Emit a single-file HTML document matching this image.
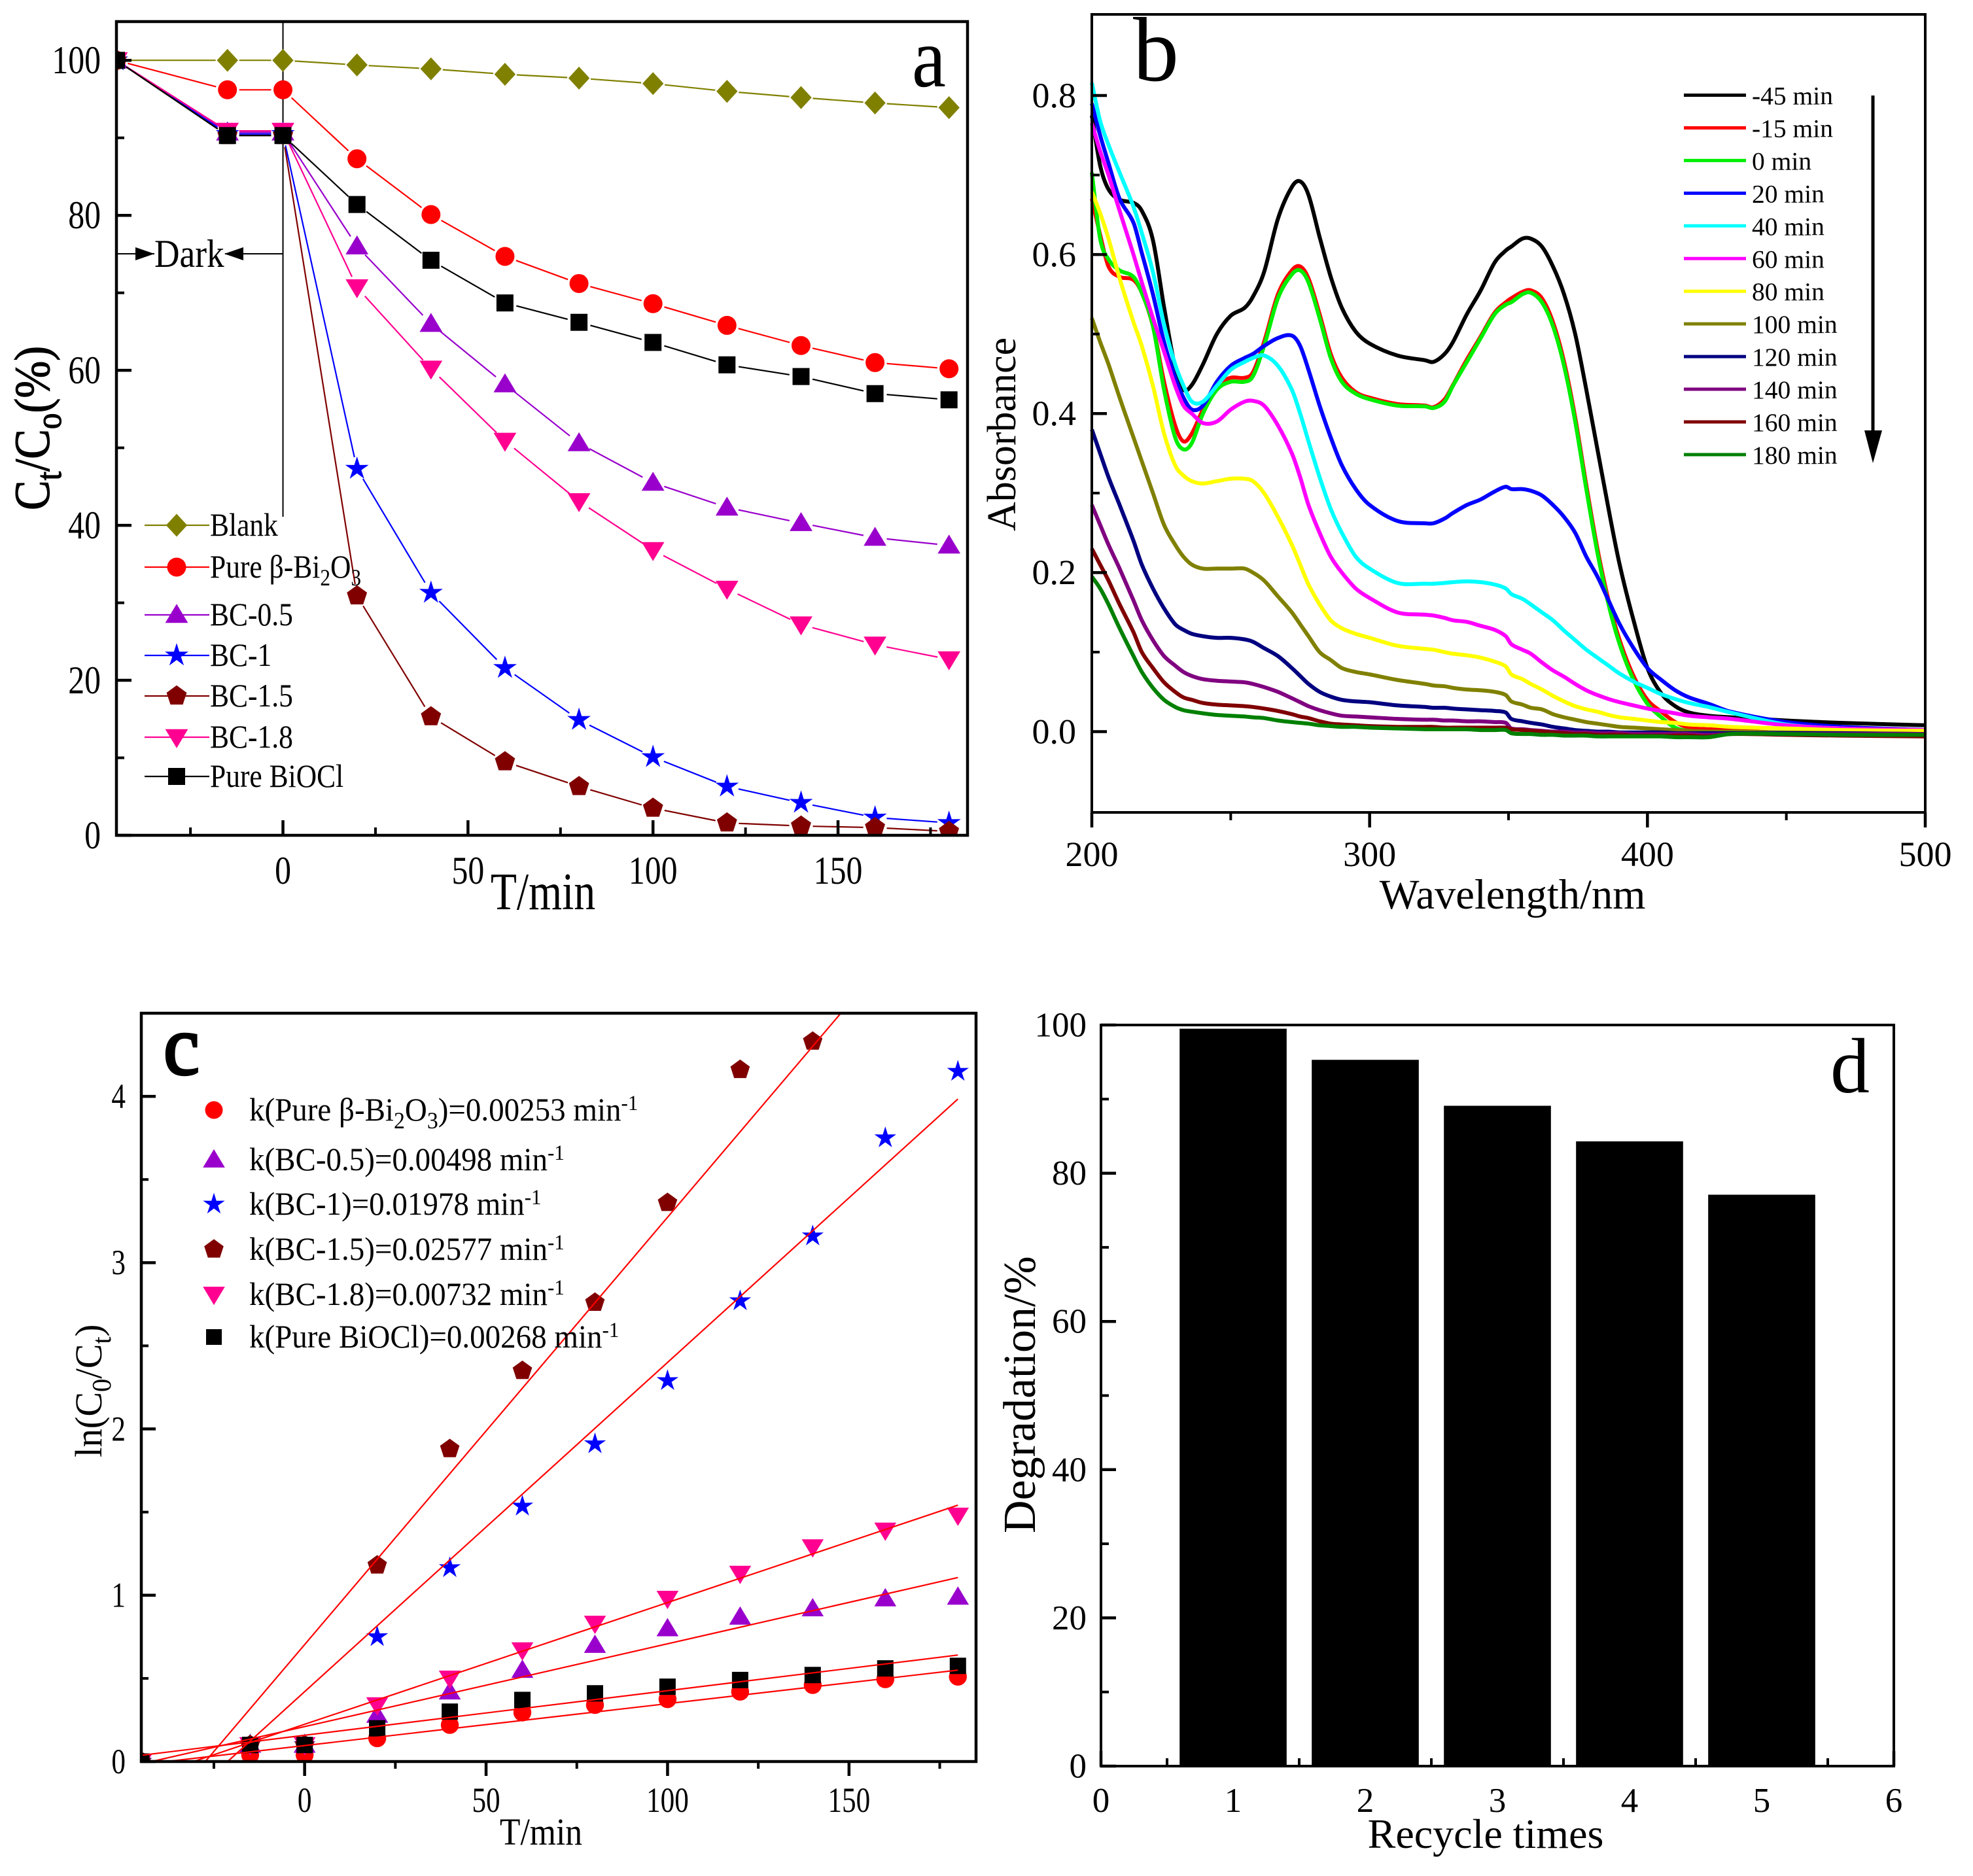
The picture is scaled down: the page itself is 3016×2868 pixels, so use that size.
<!DOCTYPE html>
<html><head><meta charset="utf-8"><title>Photocatalysis panels</title>
<style>html,body{margin:0;padding:0;background:#fff;width:3016px;height:2868px;overflow:hidden}svg{display:block}text{font-family:"Liberation Serif",serif;fill:#000}</style>
</head><body>
<svg id="fig" xmlns="http://www.w3.org/2000/svg" width="3016" height="2868" viewBox="0 0 3016 2868"><rect width="3016" height="2868" fill="#fff"/></svg>
<script>
// ---------- Panel a data ----------
const timeA = [-45,-15,0,20,40,60,80,100,120,140,160,180];
const aBlank = [100,100,100,99.4,98.9,98.2,97.7,97,96,95.2,94.5,93.9];
const aBi2O3 = [100,96.2,96.2,87.3,80.1,74.7,71.2,68.6,65.8,63.2,61,60.2];
const aBC05 = [100,90.7,90.7,76,66,58.2,50.6,45.5,42.3,40.3,38.4,37.4];
const aBC1 = [100,90.5,90.5,47.3,31.3,21.6,14.9,10.1,6.3,4.2,2.3,1.6];
const aBC15 = [100,90.3,90.3,30.9,15.3,9.5,6.3,3.5,1.6,1.2,1.0,0.5];
const aBC18 = [100,90.9,90.9,70.7,60.2,50.9,43.1,36.8,31.8,27.2,24.6,22.7];
const aBiOCl = [100,90.3,90.3,81.4,74.2,68.7,66.2,63.6,60.7,59.2,57,56.2];
// ---------- Panel b data ----------
const wavelengths = [200,203,206,210,215, 218,222,226,230,233, 236,240,245,250,255, 258,262,267,272,275, 278,282,286,290,295, 300,310,320,323,327, 330,335,340,345,349, 351,355,358,362,366, 370,374,378,382,386, 390,395,400,405,410, 415,422,430,450,470, 500];
const bM45 = [.775,.712,.682,.669,.665, .655,.618,.534,.458,.430, .436,.462,.50,.523,.533, .547,.578,.645,.685,.692, .675,.622,.572,.533,.503, .488,.473,.467,.465,.475, .49,.525,.555,.59,.605, .61,.62,.62,.61,.585, .55,.50,.43,.355,.28, .21,.14,.08,.048,.032, .024,.02,.018,.014,.011, .008];
const bM15 = [.67,.625,.585,.572,.568, .552,.51,.44,.385,.365, .375,.405,.435,.445,.445, .452,.49,.55,.58,.585, .57,.525,.475,.445,.427, .42,.412,.41,.408,.418, .436,.468,.497,.527,.54, .545,.553,.555,.545,.515, .465,.395,.31,.23,.165, .115,.07,.04,.025,.012, .005,.003,.002,-.002,-.004, -.006];
const b0 = [.703,.62,.594,.58,.572, .552,.51,.43,.37,.355, .363,.40,.43,.44,.44, .447,.485,.545,.575,.58, .565,.52,.47,.44,.425, .418,.41,.409,.407,.415, .435,.465,.495,.525,.537, .54,.55,.552,.54,.51, .46,.39,.305,.225,.16, .11,.065,.035,.018,.005, .001,0,0,-.002,-.003, -.004];
const b20 = [.79,.75,.715,.67,.64, .602,.55,.49,.445,.42, .405,.41,.44,.46,.47, .475,.485,.495,.498,.485, .455,.41,.37,.335,.305, .285,.265,.262,.262,.268, .275,.285,.292,.302,.308, .305,.305,.303,.297,.285, .27,.25,.22,.195,.165, .135,.105,.08,.065,.052, .043,.035,.025,.012,.006, .002];
const b40 = [.816,.768,.738,.703,.66, .627,.578,.512,.462,.435, .415,.415,.435,.455,.465, .47,.473,.46,.43,.40, .365,.32,.28,.25,.22, .205,.187,.186,.186,.187, .188,.189,.188,.185,.18, .173,.167,.16,.15,.14, .127,.115,.103,.093,.083, .073,.063,.055,.047,.041, .036,.031,.024,.009,.004, .001];
const b60 = [.765,.73,.70,.655,.60, .565,.52,.478,.435,.41, .40,.388,.39,.405,.415, .416,.41,.385,.35,.32, .285,.25,.22,.20,.18, .168,.15,.147,.146,.143, .14,.138,.133,.128,.12, .11,.103,.098,.087,.077, .069,.06,.052,.046,.041, .037,.033,.029,.026,.023, .02,.018,.016,.008,.004, .002];
const b80 = [.679,.652,.62,.57,.515, .485,.435,.375,.335,.322, .315,.312,.315,.318,.318, .315,.30,.27,.235,.21, .185,.16,.14,.13,.123, .118,.108,.104,.103,.10, .098,.096,.093,.088,.082, .072,.066,.06,.053,.045, .038,.032,.028,.025,.021, .018,.016,.014,.012,.011, .009,.008,.006,.004,.002, .001];
const b100 = [.52,.49,.462,.42,.37, .34,.30,.26,.235,.22, .21,.205,.205,.205,.205, .20,.19,.17,.15,.135, .12,.10,.09,.08,.075, .072,.065,.06,.058,.057, .055,.053,.052,.05,.046, .038,.034,.03,.028,.022, .018,.015,.012,.01,.008, .006,.005,.004,.003,.002, .001,0,0,-.001,-.002, -.003];
const b120 = [.38,.35,.32,.285,.24, .21,.18,.155,.135,.128, .123,.12,.118,.118,.116, .113,.105,.095,.08,.07, .06,.05,.044,.04,.038, .037,.033,.031,.03,.03, .029,.028,.027,.026,.024, .016,.013,.011,.009,.006, .004,.002,.001,0,0, -.001,-.001,-.001,-.001,-.002, -.002,-.002,-.002,-.002,-.002, -.003];
const b140 = [.285,.26,.235,.205,.165, .14,.115,.095,.083,.075, .07,.066,.064,.063,.062, .06,.056,.05,.042,.037, .032,.027,.023,.02,.019, .018,.016,.015,.015,.014, .014,.013,.013,.012,.011, .004,.003,.002,.001,0, 0,-.001,-.001,-.002,-.002, -.002,-.003,-.003,-.003,-.003, -.003,-.004,-.003,-.003,-.003, -.003];
const b160 = [.23,.21,.19,.16,.125, .10,.08,.062,.05,.043, .04,.036,.034,.033,.032, .031,.029,.026,.022,.019, .017,.013,.01,.009,.008, .007,.006,.006,.006,.005, .005,.005,.005,.005,.005, .003,.002,.001,0,-.001, -.002,-.003,-.003,-.004,-.004, -.004,-.005,-.005,-.005,-.005, -.005,-.006,-.003,-.004,-.005, -.006];
const b180 = [.195,.18,.16,.13,.095, .075,.055,.04,.031,.027, .025,.023,.021,.02,.019, .018,.017,.014,.012,.011, .01,.008,.007,.006,.006, .005,.004,.003,.003,.003, .003,.003,.002,.002,.002, -.002,-.003,-.003,-.004,-.004, -.005,-.005,-.005,-.006,-.006, -.006,-.006,-.006,-.006,-.007, -.007,-.007,-.003,-.003,-.004, -.004];
// ---------- Panel c data ----------
const timeC = [-45,-15,0,20,40,60,80,100,120,140,160,180];
const cBi2O3 = [0,.04,.04,.14,.22,.295,.34,.375,.42,.46,.495,.51];
const cBC05 = [0,.1,.1,.28,.42,.55,.7,.8,.87,.92,.98,.99];
const cBC1 = [0,.1,.1,.75,1.165,1.535,1.91,2.29,2.77,3.16,3.75,4.15];
const cBC15 = [0,.1,.1,1.18,1.88,2.35,2.76,3.36,4.16,4.33,4.6,5.3];
const cBC18 = [0,.1,.1,.34,.5,.67,.83,.98,1.13,1.29,1.39,1.48];
const cBiOCl = [0,.1,.1,.2,.3,.37,.41,.45,.49,.52,.56,.575];
const fitSlopes = [.00252,.00498,.0198,.0257,.00732,.00268];
const fitIntercepts = [.096,.21,.42,.703,.224,.158];
const fitStart = [-38,-42,-21.2,-27.3,-30.6,-45];
// ---------- Panel d data ----------
const cycles = [1,2,3,4,5];
const degradation = [99.5,95.3,89.1,84.3,77.1];

const svg = document.getElementById('fig');
const NS = 'http://www.w3.org/2000/svg';
function mk(parent, tag, attrs, name, inter) {
  const el = document.createElementNS(NS, tag);
  for (const k in attrs) el.setAttribute(k, attrs[k]);
  
  
  parent.appendChild(el);
  return el;
}
function txt(parent, name, x, y, parts, o) {
  o = o || {};
  const size = o.size || 50;
  let tf = 'translate(' + x + ',' + y + ')';
  if (o.rot) tf += ' rotate(' + o.rot + ')';
  tf += ' scale(' + (o.sx || 1) + ',' + (o.sy || 1) + ')';
  const a = {'font-size': size, 'text-anchor': o.anchor || 'start', transform: tf};
  if (o.weight) a['font-weight'] = o.weight;
  if (o.stroke) { a.stroke = '#000'; a['stroke-width'] = o.stroke; }
  const t = mk(parent, 'text', a, name, false);
  if (typeof parts === 'string') { t.textContent = parts; return t; }
  let base = 0;
  parts.forEach(function (p) {
    const ts = document.createElementNS(NS, 'tspan');
    const kind = p[1] || '';
    let target = 0, fs = size;
    if (kind === 'sub') { target = size * .24; fs = size * .72; }
    if (kind === 'sup') { target = -size * .32; fs = size * .66; }
    ts.setAttribute('dy', target - base);
    ts.setAttribute('font-size', fs);
    base = target;
    ts.textContent = p[0];
    t.appendChild(ts);
  });
  return t;
}
function scale(d0, d1, r0, r1) { return function (v) { return r0 + (v - d0) * (r1 - r0) / (d1 - d0); }; }
function marker(parent, kind, cx, cy, r, color, name) {
  if (kind === 'circle') return mk(parent, 'circle', {cx: cx, cy: cy, r: r, fill: color}, name, false);
  let pts = [];
  if (kind === 'square') pts = [[-r,-r],[r,-r],[r,r],[-r,r]];
  if (kind === 'diamond') pts = [[0,-r*1.3],[r*1.2,0],[0,r*1.3],[-r*1.2,0]];
  if (kind === 'up') pts = [[0,-r*1.15],[r*1.2,r*.85],[-r*1.2,r*.85]];
  if (kind === 'down') pts = [[0,r*1.15],[r*1.2,-r*.85],[-r*1.2,-r*.85]];
  if (kind === 'pent') { for (let i = 0; i < 5; i++) { const a = -Math.PI/2 + i*2*Math.PI/5; pts.push([r*1.2*Math.cos(a), r*1.2*Math.sin(a)]); } }
  if (kind === 'star') { for (let i = 0; i < 10; i++) { const a = -Math.PI/2 + i*Math.PI/5, q = (i%2 ? .5 : 1.35)*r; pts.push([q*Math.cos(a), q*Math.sin(a)]); } }
  return mk(parent, 'polygon', {points: pts.map(function (p) { return (cx+p[0]).toFixed(1)+','+(cy+p[1]).toFixed(1); }).join(' '), fill: color}, name, false);
}
function axes(parent, id, box, X, Y, cfg) {
  const g = mk(parent, 'g', {}, id + '-axes', false);
  mk(g, 'rect', {x: box.L, y: box.T, width: box.R - box.L, height: box.B - box.T, fill: 'none', stroke: '#000', 'stroke-width': cfg.frame || 4.5}, id + '-frame', false);
  const dirX = cfg.xOut ? 1 : -1;
  cfg.xMajor.forEach(function (v) {
    mk(g, 'line', {x1: X(v), x2: X(v), y1: box.B, y2: box.B + dirX * cfg.majLen, stroke: '#000', 'stroke-width': 4.5}, id + '-x-tick', false);
    txt(g, id + '-x-tick-label', X(v), box.B + cfg.xLabelDy, String(v), {size: cfg.fs, anchor: 'middle', sx: cfg.sx});
  });
  cfg.xMinor.forEach(function (v) {
    mk(g, 'line', {x1: X(v), x2: X(v), y1: box.B, y2: box.B + dirX * cfg.minLen, stroke: '#000', 'stroke-width': 4}, id + '-x-minor-tick', false);
  });
  cfg.yMajor.forEach(function (v) {
    mk(g, 'line', {x1: box.L, x2: box.L + cfg.majLen, y1: Y(v), y2: Y(v), stroke: '#000', 'stroke-width': 4.5}, id + '-y-tick', false);
    txt(g, id + '-y-tick-label', box.L + cfg.yLabelDx, Y(v) + cfg.fs * .33, cfg.yFmt ? cfg.yFmt(v) : String(v), {size: cfg.fs, anchor: 'end', sx: cfg.sx});
  });
  cfg.yMinor.forEach(function (v) {
    mk(g, 'line', {x1: box.L, x2: box.L + cfg.minLen, y1: Y(v), y2: Y(v), stroke: '#000', 'stroke-width': 4}, id + '-y-minor-tick', false);
  });
  return g;
}
function clip(id, box) {
  const cp = mk(svg, 'clipPath', {id: id}, id, false);
  mk(cp, 'rect', {x: box.L, y: box.T, width: box.R - box.L, height: box.B - box.T}, id + '-rect', false);
}
function range(a, b, s) { const o = []; for (let v = a; v <= b + 1e-9; v += s) o.push(+v.toFixed(4)); return o; }
function smoothPath(xs, ys, X, Y) {
  const n = xs.length, m = [];
  for (let i = 0; i < n; i++) {
    const a = Math.max(0, i - 1), b = Math.min(n - 1, i + 1);
    m.push((ys[b] - ys[a]) / (xs[b] - xs[a]));
  }
  let d = 'M' + X(xs[0]).toFixed(1) + ' ' + Y(ys[0]).toFixed(1);
  for (let i = 0; i < n - 1; i++) {
    const h = (xs[i+1] - xs[i]) / 3;
    d += 'C' + X(xs[i] + h).toFixed(1) + ' ' + Y(ys[i] + m[i] * h).toFixed(1) + ' ' + X(xs[i+1] - h).toFixed(1) + ' ' + Y(ys[i+1] - m[i+1] * h).toFixed(1) + ' ' + X(xs[i+1]).toFixed(1) + ' ' + Y(ys[i+1]).toFixed(1);
  }
  return d;
}

// =============== PANEL A ===============
const boxA = {L: 178, R: 1479, T: 33, B: 1277};
const xA = scale(-45, 185, boxA.L, boxA.R), yA = scale(0, 105, boxA.B, boxA.T);
clip('clip-a', boxA);
const panelA = mk(svg, 'g', {}, 'panel-a', false);
const seriesA = [
  ['blank', aBlank, '#808000', 'diamond', 13.5],
  ['bi2o3', aBi2O3, '#ff0000', 'circle', 14.5],
  ['bc-0-5', aBC05, '#9900cc', 'up', 14.5],
  ['bc-1', aBC1, '#0000ff', 'star', 14],
  ['bc-1-5', aBC15, '#800000', 'pent', 13.5],
  ['bc-1-8', aBC18, '#ff0090', 'down', 14.5],
  ['bioc', aBiOCl, '#000000', 'square', 13]
];
mk(panelA, 'line', {x1: xA(0), x2: xA(0), y1: boxA.T, y2: 790, stroke: '#000', 'stroke-width': 2}, 'dark-divider-line', false);
seriesA.forEach(function (s) {
  const g = mk(panelA, 'g', {'clip-path': 'url(#clip-a)'}, 'series-' + s[0], false);
  let d = '';
  for (let i = 0; i < timeA.length - 1; i++) {
    const x1 = xA(timeA[i]), y1 = yA(s[1][i]), x2 = xA(timeA[i+1]), y2 = yA(s[1][i+1]);
    const len = Math.hypot(x2-x1, y2-y1), gap = Math.min(18, len/2.2), ux = (x2-x1)/len, uy = (y2-y1)/len;
    d += 'M' + (x1+ux*gap).toFixed(1) + ' ' + (y1+uy*gap).toFixed(1) + 'L' + (x2-ux*gap).toFixed(1) + ' ' + (y2-uy*gap).toFixed(1);
  }
  mk(g, 'path', {d: d, fill: 'none', stroke: s[2], 'stroke-width': 2.2}, 'line-' + s[0], false);
  timeA.forEach(function (t, i) { marker(g, s[3], xA(t), yA(s[1][i]), s[4], s[2], 'point-' + s[0]); });
});
axes(panelA, 'a', boxA, xA, yA, {xMajor: [0,50,100,150], xMinor: [-25,25,75,125,175], yMajor: range(0,100,20), yMinor: range(10,90,20), xOut: false, majLen: 23, minLen: 12, fs: 60, sx: .83, xLabelDy: 74, yLabelDx: -24});
txt(panelA, 'x-axis-title-a', 830, 1390, 'T/min', {size: 80, anchor: 'middle', sx: .82});
txt(panelA, 'y-axis-title-a', 75, 780, [['C'],['t','sub'],['/C'],['o','sub'],['(%)']], {size: 76, rot: -90, sx: .9, stroke: 1.2});
txt(panelA, 'panel-label-a', 1394, 132, 'a', {size: 130, sx: .9});
mk(panelA, 'line', {x1: boxA.L, x2: 236, y1: 388, y2: 388, stroke: '#000', 'stroke-width': 2}, 'dark-arrow-line-left', false);
mk(panelA, 'polygon', {points: '207,378 236,388 207,398', fill: '#000'}, 'dark-arrow-head-right', false);
mk(panelA, 'line', {x1: 344, x2: 433, y1: 388, y2: 388, stroke: '#000', 'stroke-width': 2}, 'dark-arrow-line-right', false);
mk(panelA, 'polygon', {points: '372,378 343,388 372,398', fill: '#000'}, 'dark-arrow-head-left', false);
txt(panelA, 'dark-label', 236, 408, 'Dark', {size: 60, sx: .89});
const legendA = [
  [[['Blank']], '#808000', 'diamond', 13.5, 803],
  [[['Pure β-Bi'],['2','sub'],['O'],['3','sub']], '#ff0000', 'circle', 14.5, 867],
  [[['BC-0.5']], '#9900cc', 'up', 14.5, 940],
  [[['BC-1']], '#0000ff', 'star', 14, 1002],
  [[['BC-1.5']], '#800000', 'pent', 13.5, 1064],
  [[['BC-1.8']], '#ff0090', 'down', 14.5, 1127],
  [[['Pure BiOCl']], '#000000', 'square', 13, 1187]
];
legendA.forEach(function (r, i) {
  const g = mk(panelA, 'g', {}, 'legend-entry-a', false);
  mk(g, 'line', {x1: 221, x2: 320, y1: r[4], y2: r[4], stroke: r[1], 'stroke-width': 2.2}, 'legend-line', false);
  marker(g, r[2], 270, r[4], r[3], r[1], 'legend-marker');
  txt(g, 'legend-label', 321, r[4] + 16, r[0], {size: 50, sx: .87});
});

// =============== PANEL B ===============
const boxB = {L: 1669, R: 2943, T: 22, B: 1242};
const xB = scale(200, 500, boxB.L, boxB.R), yB = scale(0, .8, 1118.5, 146);
clip('clip-b', {L: boxB.L - 3, R: boxB.R, T: boxB.T, B: boxB.B});
const panelB = mk(svg, 'g', {}, 'panel-b', false);
const seriesB = [
  ['-45 min', bM45, '#000000'], ['-15 min', bM15, '#ff0000'], ['0 min', b0, '#00ee00'],
  ['20 min', b20, '#0000ff'], ['40 min', b40, '#00ffff'], ['60 min', b60, '#ff00ff'],
  ['80 min', b80, '#ffff00'], ['100 min', b100, '#808000'], ['120 min', b120, '#000080'],
  ['140 min', b140, '#800080'], ['160 min', b160, '#800000'], ['180 min', b180, '#008000']
];
seriesB.forEach(function (s) {
  mk(panelB, 'path', {d: smoothPath(wavelengths, s[1], xB, yB), fill: 'none', stroke: s[2], 'stroke-width': 6, 'stroke-linejoin': 'round', 'clip-path': 'url(#clip-b)'}, 'spectrum-' + s[0].replace(' ', '-'), false);
});
axes(panelB, 'b', boxB, xB, yB, {xMajor: [200,300,400,500], xMinor: [250,350,450], yMajor: [0,.2,.4,.6,.8], yMinor: [.1,.3,.5,.7], yFmt: function (v) { return v.toFixed(1); }, xOut: true, majLen: 23, minLen: 12, fs: 54, sx: 1, xLabelDy: 82, yLabelDx: -24, frame: 4});
seriesB.forEach(function (s, i) {
  const y = 145.5 + i * 49.95;
  const g = mk(panelB, 'g', {}, 'legend-entry-b', false);
  mk(g, 'line', {x1: 2574, x2: 2669, y1: y, y2: y, stroke: s[2], 'stroke-width': 5}, 'legend-line', false);
  txt(g, 'legend-label', 2678, y + 14, s[0], {size: 39.5});
});
mk(panelB, 'line', {x1: 2863, x2: 2863, y1: 146, y2: 670, stroke: '#000', 'stroke-width': 5}, 'decrease-arrow-shaft', false);
mk(panelB, 'polygon', {points: '2850,658 2877,658 2863,708', fill: '#000'}, 'decrease-arrow-head', false);
txt(panelB, 'x-axis-title-b', 2312, 1389, 'Wavelength/nm', {size: 64.5, anchor: 'middle'});
txt(panelB, 'y-axis-title-b', 1552, 812, 'Absorbance', {size: 62, rot: -90});
txt(panelB, 'panel-label-b', 1732, 123, 'b', {size: 140});

// =============== PANEL C ===============
const boxC = {L: 216, R: 1492, T: 1549, B: 2693};
const xC = scale(-45, 185, boxC.L, boxC.R), yC = scale(0, 4.5, boxC.B, boxC.T);
clip('clip-c', boxC);
const panelC = mk(svg, 'g', {}, 'panel-c', false);
const seriesC = [
  ['bi2o3', cBi2O3, '#ff0000', 'circle', 13.7],
  ['bc-0-5', cBC05, '#9900cc', 'up', 14],
  ['bc-1', cBC1, '#0000ff', 'star', 13],
  ['bc-1-5', cBC15, '#800000', 'pent', 13],
  ['bc-1-8', cBC18, '#ff0090', 'down', 14],
  ['bioc', cBiOCl, '#000000', 'square', 12.5]
];
seriesC.forEach(function (s) {
  const g = mk(panelC, 'g', {'clip-path': 'url(#clip-c)'}, 'series-c-' + s[0], false);
  timeC.forEach(function (t, i) { marker(g, s[3], xC(t), yC(s[1][i]), s[4], s[2], 'point-c-' + s[0]); });
});
seriesC.forEach(function (s, idx) {
  mk(panelC, 'line', {'clip-path': 'url(#clip-c)', x1: xC(fitStart[idx]), y1: yC(fitSlopes[idx]*fitStart[idx]+fitIntercepts[idx]), x2: xC(180), y2: yC(fitSlopes[idx]*180+fitIntercepts[idx]), stroke: '#ff0000', 'stroke-width': 2.2}, 'fit-line-' + s[0], false);
});
axes(panelC, 'c', boxC, xC, yC, {xMajor: [0,50,100,150], xMinor: [-25,25,75,125,175], yMajor: [0,1,2,3,4], yMinor: [.5,1.5,2.5,3.5], xOut: true, majLen: 22, minLen: 11, fs: 54, sx: .8, xLabelDy: 77, yLabelDx: -24});
txt(panelC, 'x-axis-title-c', 827, 2820, 'T/min', {size: 58, anchor: 'middle', sx: .89});
txt(panelC, 'y-axis-title-c', 155, 2228, [['ln(C'],['0','sub'],['/C'],['t','sub'],[')']], {size: 58, rot: -90, sx: .97});
txt(panelC, 'panel-label-c', 250, 1642, 'c', {size: 130, stroke: 4, sx: .95});
const legendC = [
  [[['k(Pure β-Bi'],['2','sub'],['O'],['3','sub'],[')=0.00253 min'],['-1','sup']], '#ff0000', 'circle', 13.5, 1697],
  [[['k(BC-0.5)=0.00498 min'],['-1','sup']], '#9900cc', 'up', 14, 1773],
  [[['k(BC-1)=0.01978 min'],['-1','sup']], '#0000ff', 'star', 13, 1841],
  [[['k(BC-1.5)=0.02577 min'],['-1','sup']], '#800000', 'pent', 13, 1910],
  [[['k(BC-1.8)=0.00732 min'],['-1','sup']], '#ff0090', 'down', 14, 1979],
  [[['k(Pure BiOCl)=0.00268 min'],['-1','sup']], '#000000', 'square', 12, 2044]
];
legendC.forEach(function (r) {
  const g = mk(panelC, 'g', {}, 'legend-entry-c', false);
  marker(g, r[2], 327, r[4], r[3], r[1], 'legend-marker');
  txt(g, 'legend-label', 381, r[4] + 16, r[0], {size: 50, sx: .94});
});

// =============== PANEL D ===============
const boxD = {L: 1683, R: 2895, T: 1567, B: 2700};
const xD = scale(0, 6, boxD.L, boxD.R), yD = scale(0, 100, boxD.B, boxD.T);
const panelD = mk(svg, 'g', {}, 'panel-d', false);
cycles.forEach(function (c, i) {
  mk(panelD, 'rect', {x: xD(c - .405), y: yD(degradation[i]), width: xD(.81) - xD(0), height: yD(0) - yD(degradation[i]), fill: '#000'}, 'bar-cycle-' + c, false);
});
axes(panelD, 'd', boxD, xD, yD, {xMajor: [0,1,2,3,4,5,6], xMinor: [.5,1.5,2.5,3.5,4.5,5.5], yMajor: range(0,100,20), yMinor: range(10,90,20), xOut: false, majLen: 23, minLen: 12, fs: 53, sx: 1, xLabelDy: 70, yLabelDx: -22, frame: 4});
txt(panelD, 'x-axis-title-d', 2271, 2825, 'Recycle times', {size: 64, anchor: 'middle'});
txt(panelD, 'y-axis-title-d', 1582, 2344, 'Degradation/%', {size: 70, rot: -90});
txt(panelD, 'panel-label-d', 2798, 1670, 'd', {size: 120});
</script>
</body></html>
